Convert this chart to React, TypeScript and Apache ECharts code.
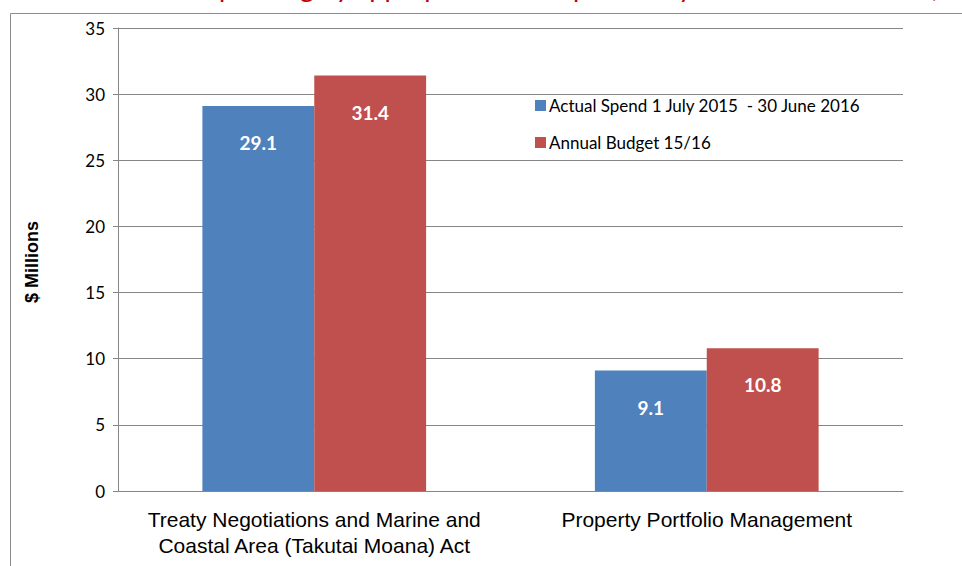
import React, { useEffect, useRef } from "react";
import * as echarts from "echarts";

const categories = [
  "Treaty Negotiations and Marine and\nCoastal Area (Takutai Moana) Act",
  "Property Portfolio Management",
];
const seriesNames = ["Actual Spend 1 July 2015  - 30 June 2016", "Annual Budget 15/16"];
const actualSpend = [29.1, 9.1];
const annualBudget = [31.4, 10.8];
const titleText = "Actual spending by appropriation compared to year to date forecast (YTD)";
const axisName = "$ Millions";

export default function App() {
  const ref = useRef<HTMLDivElement>(null);
  useEffect(() => {
    document.body.style.margin = "0";
    const chart = echarts.init(ref.current!, null, { renderer: "svg" });
    const calibri = "Lato, 'Open Sans', sans-serif";
    const label = {
      show: true,
      position: "insideTop",
      distance: 27,
      color: "#fff",
      fontWeight: "bold",
      fontSize: 19,
      fontFamily: calibri,
    };
    chart.setOption({
      animation: false,
      backgroundColor: "#fff",
      graphic: [
        {
          type: "rect",
          shape: { x: 10.5, y: 13.5, width: 1000, height: 700 },
          style: { fill: "none", stroke: "#8c8c8c", lineWidth: 1 },
          silent: true,
        },
        {
          type: "text",
          x: 125,
          y: 0,
          style: {
            text: titleText,
            fill: "#C00000",
            font: "27px Lato, sans-serif",
            textVerticalAlign: "bottom",
          },
          silent: true,
        },
        {
          type: "text",
          x: 32,
          y: 262,
          rotation: Math.PI / 2,
          style: {
            text: axisName,
            fill: "#000",
            font: "bold 18px 'Liberation Sans', Arial, sans-serif",
            textAlign: "center",
            textVerticalAlign: "middle",
          },
          silent: true,
        },
      ],
      grid: { left: 118, top: 28, right: 59, bottom: 75, containLabel: false },
      legend: {
        orient: "vertical",
        left: 530,
        top: 92,
        itemWidth: 11,
        itemHeight: 11,
        itemGap: 20,
        icon: "rect",
        data: seriesNames,
        textStyle: { fontSize: 17, color: "#000", fontFamily: calibri, padding: [0, 0, 0, -2] },
      },
      xAxis: {
        type: "category",
        data: categories,
        axisLine: { lineStyle: { color: "#868686" } },
        axisTick: { show: false },
        axisLabel: {
          interval: 0,
          hideOverlap: false,
          color: "#000",
          fontSize: 21,
          lineHeight: 26,
          margin: 15,
          fontFamily: "'Liberation Sans Narrow', 'Liberation Sans', Arial, sans-serif",
        },
      },
      yAxis: {
        type: "value",
        min: 0,
        max: 35,
        interval: 5,
        axisLine: { show: true, lineStyle: { color: "#868686" } },
        axisTick: { show: true, length: 5, lineStyle: { color: "#868686" } },
        splitLine: { lineStyle: { color: "#868686" } },
        axisLabel: { color: "#000", fontSize: 17, margin: 13, fontFamily: calibri },
      },
      series: [
        {
          name: seriesNames[0],
          type: "bar",
          data: actualSpend,
          itemStyle: { color: "#4F81BD" },
          barGap: "0%",
          barCategoryGap: "43%",
          label,
        },
        {
          name: seriesNames[1],
          type: "bar",
          data: annualBudget,
          itemStyle: { color: "#C0504D" },
          label,
        },
      ],
    });
    return () => chart.dispose();
  }, []);
  return <div ref={ref} style={{ width: 962, height: 566 }} />;
}
